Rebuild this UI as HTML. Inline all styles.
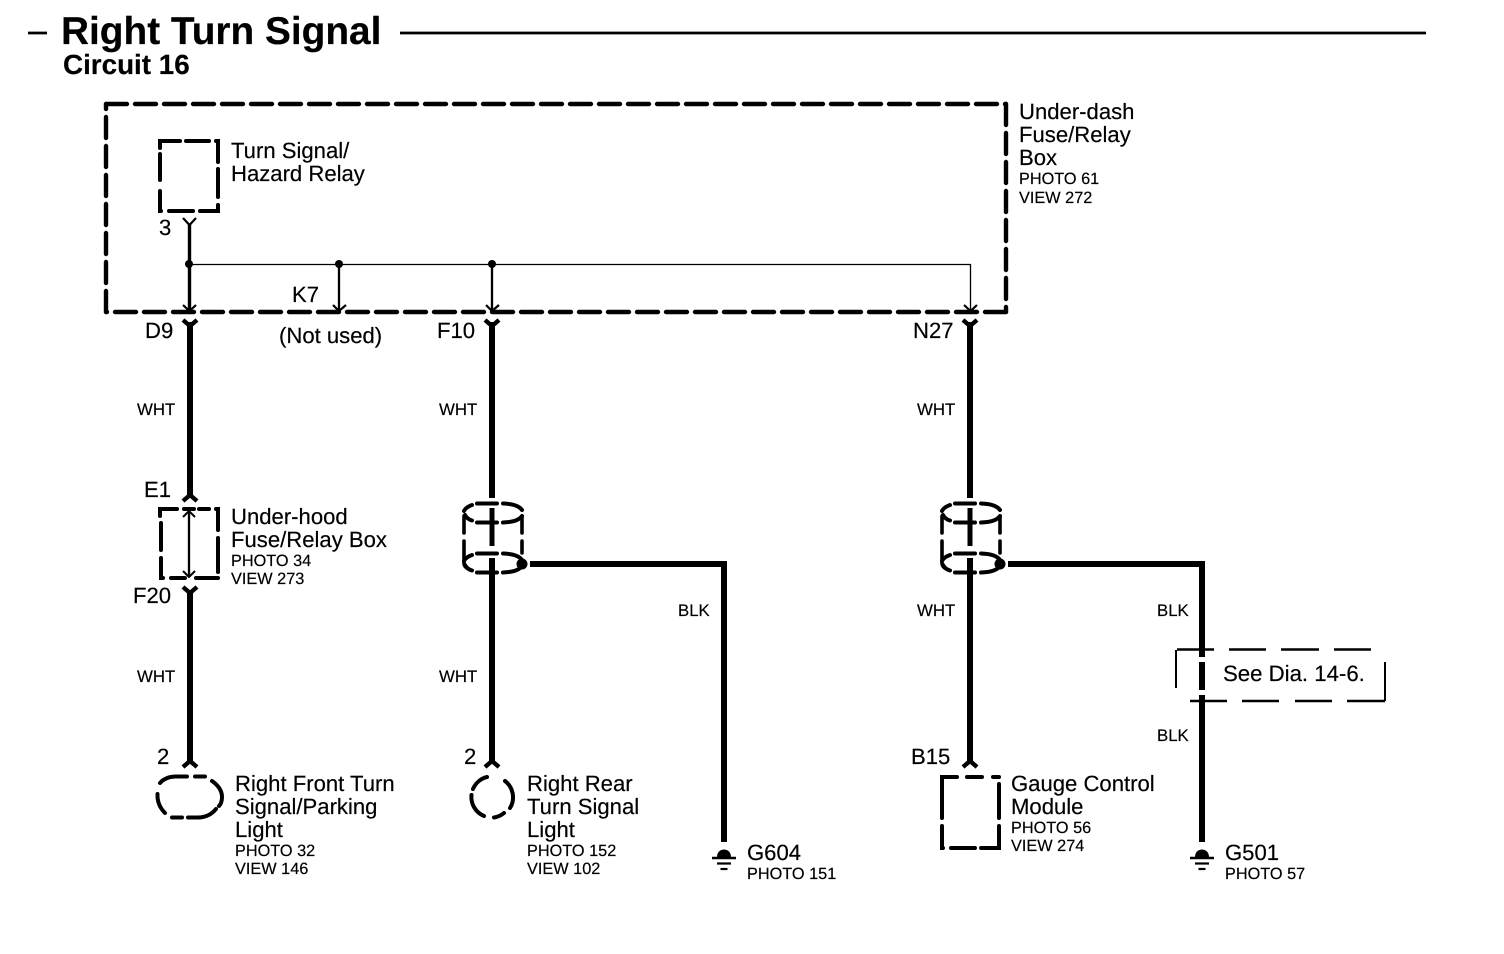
<!DOCTYPE html>
<html>
<head>
<meta charset="utf-8">
<style>
html,body{margin:0;padding:0;background:#fff}
svg{display:block}
text{font-family:"Liberation Sans",sans-serif;fill:#000;stroke:#000;stroke-width:.18;text-rendering:geometricPrecision}
.m{font-size:22.1px}
.s{font-size:16.3px}
.w{font-size:16.8px}
.b{font-weight:bold}
</style>
</head>
<body>
<svg width="1504" height="954" viewBox="0 0 1504 954" xmlns="http://www.w3.org/2000/svg">
<defs>
<g id="cap" fill="none" stroke="#000" stroke-width="4" stroke-linecap="round">
  <path d="M-16,-9.500H4"/>
  <path d="M10,-9.500Q25,-9 29,-3"/>
  <path d="M-21,-8Q-27,-6 -29,-2"/>
  <path d="M-28,2Q-26,6 -21,7.500"/>
  <path d="M-16,9.500H4"/>
  <path d="M10,9.500Q25,9 29,3"/>
</g>
<g id="cyl" fill="none" stroke="#000" stroke-linecap="round">
  <use href="#cap"/>
  <use href="#cap" y="50"/>
  <path d="M-29,3V20M-29,28V50M-29,50Q-29,55 -21,57.500" stroke-width="3.600"/>
  <path d="M29,3V20M29,28V40" stroke-width="3.600"/>
</g>
<g id="gnd" stroke="#000" fill="#000">
  <path d="M-7,11C-7,1 7,1 7,11Z" stroke="none"/>
  <path d="M-12,12H12" stroke-width="2.400"/>
  <path d="M-7,17.500H7" stroke-width="2.200"/>
  <path d="M-3.500,23H3.500" stroke-width="2.200"/>
</g>
</defs>

<!-- title -->
<path d="M28,33H47M400,33H1426" stroke="#000" stroke-width="2.800" fill="none"/>
<text x="61" y="44" class="b" font-size="38.800">Right Turn Signal</text>
<text x="63" y="74" class="b" font-size="27.800">Circuit 16</text>

<!-- under-dash box -->
<g fill="none" stroke="#000" stroke-width="4.400" stroke-linecap="round">
  <path d="M106,104H1006" stroke-dasharray="21 8"/>
  <path d="M1006,104V312" stroke-dasharray="21 8"/>
  <path d="M1006,312H106" stroke-dasharray="21 8"/>
  <path d="M106,312V104" stroke-dasharray="21 8"/>
</g>
<g fill="none" stroke="#000" stroke-width="4" stroke-linecap="round">
  <!-- relay box -->
  <path d="M160,148V141H180M186,141H209M216,141H218V162M218,169V197M218,205V211H200M193,211H169M161,211H160V191M160,180V154"/>
  <!-- under-hood box -->
  <path d="M160,516V509H177M184,509H194M199,509H209M216,509H218V530M218,538V572M218,578H196M185,578H171M163,578H161V558M161,550V523"/>
  <!-- module box -->
  <path d="M942,818V777H957M967,777H982M993,777H999M999,784V818M999,826V848H981M975,848H951M943,848H942V826"/>
  <!-- lamps -->
  <path d="M160,783Q165,777 175,776.500H187M195,776.500H205M212,781Q222,788 222,797Q222,803 219,806M216,809Q209,817.500 198,817.500H188M172,817.500H182M165,813Q157,805 157.500,794"/>
  <path d="M473,789A20.500,20.500 0 0 1 487,777M505,781A20.500,20.500 0 0 1 510,808M504,813A20.500,20.500 0 0 1 494,817.500M484,816A20.500,20.500 0 0 1 471.500,795"/>
</g>

<!-- internal wires -->
<g fill="none" stroke="#000">
  <path d="M189.500,224V310" stroke-width="3.400"/>
  <path d="M183,218L189.500,225L196,218" stroke-width="2.200"/>
  <path d="M189,264.500H970.500V311" stroke-width="1.300"/>
  <path d="M339,264V310M492,264V310" stroke-width="2.300"/>
  <path d="M183,305L189.500,311L196,305M333,305L339,311L346,305M486,305L492,311L499,305M964,305L970.500,311L977,305" stroke-width="2.200"/>
  <path d="M189,511V577" stroke-width="2.300"/>
  <path d="M183,517L189,511L195,517M183,571L189,577L195,571" stroke-width="2"/>
</g>
<g fill="#000">
  <circle cx="189" cy="264" r="4"/>
  <circle cx="339" cy="264" r="4"/>
  <circle cx="492" cy="264" r="4"/>
</g>

<!-- thick wires -->
<g fill="none" stroke="#000" stroke-width="6">
  <path d="M190,322V498"/>
  <path d="M190,590V762"/>
  <path d="M492,322V498M492,558V762"/>
  <path d="M970,322V498M970,558V762"/>
  <path d="M530,564H724V842"/>
  <path d="M1008,564H1202V657M1202,662V690M1202,695V842"/>
  <path d="M492,508V546M970,508V546" stroke-width="5"/>
</g>
<g fill="none" stroke="#000" stroke-width="4.400">
  <path d="M183,320L190,326L197,320M485,320L492,326L499,320M963,320L970,326L977,320"/>
  <path d="M183,501L190,495L197,501"/>
  <path d="M183,587L190,593L197,587"/>
  <path d="M183,767L190,761L197,767M485,767L492,761L499,767M963,767L970,761L977,767"/>
</g>

<!-- cylinders -->
<use href="#cyl" x="493" y="513"/>
<use href="#cyl" x="971" y="513"/>
<circle cx="522" cy="564" r="5.500" fill="#000"/>
<circle cx="1000" cy="564" r="5.500" fill="#000"/>

<!-- grounds -->
<use href="#gnd" x="724" y="846"/>
<use href="#gnd" x="1202" y="846"/>

<!-- see dia box -->
<g fill="none" stroke="#000">
  <path d="M1177,649.500H1214M1229,649.500H1266M1281,649.500H1319M1334,649.500H1371" stroke-width="2.600"/>
  <path d="M1190,701H1227M1242,701H1279M1295,701H1332M1347,701H1385" stroke-width="2.600"/>
  <path d="M1176,650V688M1385,662V701" stroke-width="2"/>
</g>

<!-- labels -->
<text x="1019" y="119" class="m">Under-dash</text>
<text x="1019" y="142" class="m">Fuse/Relay</text>
<text x="1019" y="165" class="m">Box</text>
<text x="1019" y="184" class="s">PHOTO 61</text>
<text x="1019" y="203" class="s">VIEW 272</text>

<text x="231" y="158" class="m">Turn Signal/</text>
<text x="231" y="181" class="m">Hazard Relay</text>
<text x="159" y="235" class="m">3</text>
<text x="292" y="302" class="m">K7</text>
<text x="279" y="343" class="m">(Not used)</text>
<text x="145" y="338" class="m">D9</text>
<text x="437" y="338" class="m">F10</text>
<text x="913" y="338" class="m">N27</text>

<text x="137" y="415" class="w">WHT</text>
<text x="439" y="415" class="w">WHT</text>
<text x="917" y="415" class="w">WHT</text>

<text x="144" y="497" class="m">E1</text>
<text x="133" y="603" class="m">F20</text>
<text x="231" y="524" class="m">Under-hood</text>
<text x="231" y="547" class="m">Fuse/Relay Box</text>
<text x="231" y="566" class="s">PHOTO 34</text>
<text x="231" y="584" class="s">VIEW 273</text>

<text x="678" y="616" class="w">BLK</text>
<text x="917" y="616" class="w">WHT</text>
<text x="1157" y="616" class="w">BLK</text>
<text x="1223" y="681" font-size="22.200">See Dia. 14-6.</text>
<text x="1157" y="741" class="w">BLK</text>
<text x="137" y="682" class="w">WHT</text>
<text x="439" y="682" class="w">WHT</text>

<text x="157" y="764" class="m">2</text>
<text x="464" y="764" class="m">2</text>
<text x="911" y="764" class="m">B15</text>

<text x="235" y="791" class="m">Right Front Turn</text>
<text x="235" y="814" class="m">Signal/Parking</text>
<text x="235" y="837" class="m">Light</text>
<text x="235" y="856" class="s">PHOTO 32</text>
<text x="235" y="874" class="s">VIEW 146</text>

<text x="527" y="791" class="m">Right Rear</text>
<text x="527" y="814" class="m">Turn Signal</text>
<text x="527" y="837" class="m">Light</text>
<text x="527" y="856" class="s">PHOTO 152</text>
<text x="527" y="874" class="s">VIEW 102</text>

<text x="747" y="860" class="m">G604</text>
<text x="747" y="879" class="s">PHOTO 151</text>

<text x="1011" y="791" class="m">Gauge Control</text>
<text x="1011" y="814" class="m">Module</text>
<text x="1011" y="833" class="s">PHOTO 56</text>
<text x="1011" y="851" class="s">VIEW 274</text>

<text x="1225" y="860" class="m">G501</text>
<text x="1225" y="879" class="s">PHOTO 57</text>
</svg>
</body>
</html>
